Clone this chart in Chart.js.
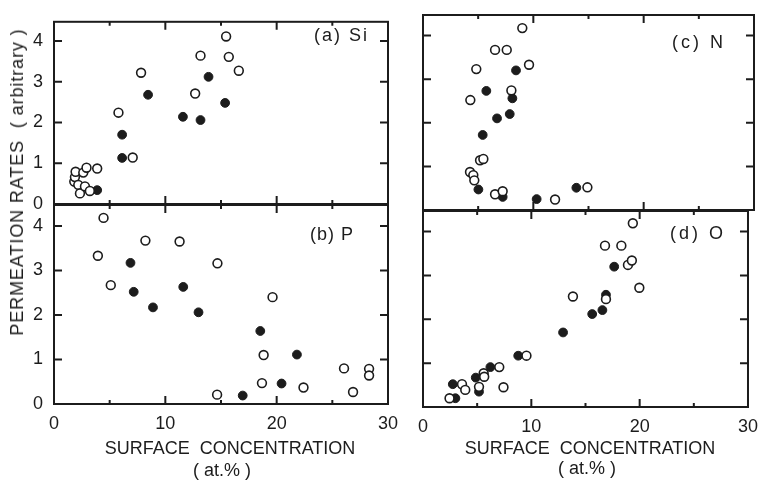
<!DOCTYPE html>
<html>
<head>
<meta charset="utf-8">
<script src="https://cdn.jsdelivr.net/npm/chart.js@4.4.1/dist/chart.umd.min.js"></script>
<style>
    body { margin: 0; background: #fff; }
    #wrap { position: relative; width: 767px; height: 483px; overflow: hidden;
            font-family: 'Liberation Sans', Arial, sans-serif; color: #1c1c1c; }
    #wrap canvas { position: absolute; left: 0; top: 0; }
    .lbl { position: absolute; white-space: nowrap; font-size: 18px; line-height: 1; }
</style>
</head>
<body>
<div id="wrap">
    <canvas id="pa" width="767" height="483"></canvas>
    <canvas id="pb" width="767" height="483"></canvas>
    <canvas id="pc" width="767" height="483"></canvas>
    <canvas id="pd" width="767" height="483"></canvas>

    <div class="lbl" style="left:17px;top:182px;letter-spacing:0.9px;transform:translate(-50%,-50%) rotate(-90deg);">PERMEATION RATES&nbsp; ( arbitrary )</div>
    <div class="lbl" style="left:230px;top:448px;transform:translate(-50%,-50%);">SURFACE&nbsp; CONCENTRATION</div>
    <div class="lbl" style="left:222px;top:470px;transform:translate(-50%,-50%);">( at.% )</div>
    <div class="lbl" style="left:590px;top:448px;transform:translate(-50%,-50%);">SURFACE&nbsp; CONCENTRATION</div>
    <div class="lbl" style="left:587px;top:468px;transform:translate(-50%,-50%);">( at.% )</div>

    <div class="lbl" style="right:398px;top:35px;letter-spacing:2px;transform:translateY(-50%);">(a) Si</div>
    <div class="lbl" style="right:413px;top:234px;letter-spacing:1px;transform:translateY(-50%);">(b) P</div>
    <div class="lbl" style="right:41px;top:42px;letter-spacing:3px;transform:translateY(-50%);">(c) N</div>
    <div class="lbl" style="right:41px;top:233px;letter-spacing:3px;transform:translateY(-50%);">(d) O</div>
</div>

<script>
// Axis ticks
const xMajorTicks = [0, 10, 20, 30];
const xMinorTicks = [5, 15, 25];
const yTicks = [0, 1, 2, 3, 4];

// (a) Si
const siOpenX = [1.82, 1.88, 1.94, 2.18, 2.33, 2.63, 2.78, 2.92, 3.22, 3.88, 5.79, 7.07, 7.82, 12.68, 13.16, 15.46, 15.70, 16.60];
const siOpenY = [0.55, 0.66, 0.79, 0.47, 0.26, 0.77, 0.43, 0.89, 0.32, 0.87, 2.24, 1.14, 3.22, 2.71, 3.64, 4.11, 3.61, 3.27];
const siFilledX = [3.88, 6.12, 6.12, 8.45, 11.58, 13.16, 13.88, 15.37];
const siFilledY = [0.34, 1.13, 1.70, 2.68, 2.14, 2.06, 3.12, 2.48];

// (b) P
const pOpenX = [3.94, 4.45, 5.10, 8.21, 11.28, 14.65, 14.68, 18.68, 18.83, 19.63, 22.41, 26.05, 26.86, 28.30, 28.30];
const pOpenY = [3.33, 4.18, 2.67, 3.67, 3.65, 0.21, 3.16, 0.47, 1.10, 2.40, 0.37, 0.80, 0.27, 0.79, 0.64];
const pFilledX = [6.87, 7.16, 8.89, 11.61, 12.98, 16.95, 18.53, 20.44, 21.82];
const pFilledY = [3.17, 2.52, 2.17, 2.63, 2.06, 0.19, 1.64, 0.46, 1.11];

// (c) N
const nOpenX = [4.26, 4.29, 4.56, 4.65, 4.83, 5.17, 5.47, 6.53, 6.53, 7.22, 7.59, 8.01, 9.00, 9.61, 11.97, 14.90];
const nOpenY = [0.87, 2.52, 0.80, 0.68, 3.23, 1.14, 1.17, 3.67, 0.36, 0.43, 3.67, 2.74, 4.17, 3.33, 0.24, 0.52];
const nFilledX = [5.02, 5.41, 5.74, 6.71, 7.22, 7.86, 8.10, 8.43, 10.30, 13.90];
const nFilledY = [0.47, 1.72, 2.73, 2.10, 0.30, 2.20, 2.56, 3.20, 0.25, 0.51];

// (d) O
const oOpenX = [2.45, 3.60, 3.90, 5.17, 5.60, 5.65, 7.04, 7.43, 9.55, 13.84, 16.80, 16.89, 18.31, 18.92, 19.28, 19.37, 19.97];
const oOpenY = [0.20, 0.52, 0.39, 0.46, 0.77, 0.69, 0.91, 0.45, 1.17, 2.52, 3.68, 2.46, 3.68, 3.24, 3.34, 4.19, 2.72];
const oFilledX = [2.75, 2.99, 4.87, 5.17, 6.22, 8.79, 12.93, 15.62, 16.56, 16.89, 17.65];
const oFilledY = [0.52, 0.20, 0.67, 0.35, 0.91, 1.17, 1.70, 2.12, 2.21, 2.56, 3.20];

const X_MAX = 30;
const Y_MAX = 4.47;
const INK = '#1c1c1c';
const FONT = "'Liberation Sans', Arial, sans-serif";

// left, top, right, bottom of each plot box
const panels = [
    { id: 'pa', box: [54, 9, 388, 204], yLabels: true,  xLabels: false, open: [siOpenX, siOpenY], filled: [siFilledX, siFilledY] },
    { id: 'pb', box: [54, 205, 388, 404], yLabels: true,  xLabels: true,  open: [pOpenX, pOpenY],   filled: [pFilledX, pFilledY] },
    { id: 'pc', box: [423, 15, 754, 210], yLabels: false, xLabels: false, open: [nOpenX, nOpenY],   filled: [nFilledX, nFilledY] },
    { id: 'pd', box: [423, 211, 754, 407], yLabels: false, xLabels: true,  open: [oOpenX, oOpenY],   filled: [oFilledX, oFilledY] }
];

function toPoints(xs, ys) {
    return xs.map((x, i) => ({ x: x, y: ys[i] }));
}

// Box frame with inward ticks on all four sides
const framePlugin = {
    id: 'frame',
    beforeDatasetsDraw(chart) {
        const ctx = chart.ctx;
        const a = chart.chartArea;
        const xs = chart.scales.x;
        const ys = chart.scales.y;
        ctx.save();
        ctx.strokeStyle = INK;
        ctx.lineWidth = 2;
        ctx.strokeRect(a.left, a.top, a.right - a.left, a.bottom - a.top);
        ctx.beginPath();
        function xTick(v, len) {
            const px = xs.getPixelForValue(v);
            ctx.moveTo(px, a.bottom); ctx.lineTo(px, a.bottom - len);
            ctx.moveTo(px, a.top); ctx.lineTo(px, a.top + len);
        }
        xMajorTicks.forEach(v => xTick(v, 8));
        xMinorTicks.forEach(v => xTick(v, 4));
        yTicks.forEach(v => {
            const py = ys.getPixelForValue(v);
            ctx.moveTo(a.left, py); ctx.lineTo(a.left + 8, py);
            ctx.moveTo(a.right, py); ctx.lineTo(a.right - 8, py);
        });
        ctx.stroke();
        ctx.restore();
    }
};

panels.forEach(p => {
    const yw = p.yLabels ? 40 : 0;
    const xh = p.xLabels ? 40 : 0;
    const [l, t, r, b] = p.box;

    new Chart(document.getElementById(p.id), {
        type: 'scatter',
        data: {
            datasets: [{
                data: toPoints(p.open[0], p.open[1]),
                backgroundColor: '#fff',
                borderColor: INK,
                borderWidth: 1.6,
                pointRadius: 4.4
            }, {
                data: toPoints(p.filled[0], p.filled[1]),
                backgroundColor: INK,
                borderColor: INK,
                borderWidth: 1,
                pointRadius: 4.4
            }]
        },
        options: {
            responsive: false,
            animation: false,
            events: [],
            layout: {
                padding: { left: l - yw, top: t, right: 767 - r, bottom: 483 - b - xh }
            },
            plugins: {
                legend: { display: false },
                tooltip: { enabled: false }
            },
            scales: {
                x: {
                    type: 'linear',
                    min: 0,
                    max: X_MAX,
                    grid: { display: false, drawTicks: false },
                    border: { display: false },
                    afterFit: s => { s.height = xh; },
                    ticks: {
                        display: p.xLabels,
                        stepSize: 10,
                        padding: 9,
                        color: INK,
                        font: { family: FONT, size: 18 }
                    }
                },
                y: {
                    type: 'linear',
                    min: 0,
                    max: Y_MAX,
                    grid: { display: false, drawTicks: false },
                    border: { display: false },
                    afterFit: s => { s.width = yw; },
                    ticks: {
                        display: p.yLabels,
                        stepSize: 1,
                        includeBounds: false,
                        padding: 11,
                        color: INK,
                        font: { family: FONT, size: 18 }
                    }
                }
            }
        },
        plugins: [framePlugin]
    });
});
</script>
</body>
</html>
